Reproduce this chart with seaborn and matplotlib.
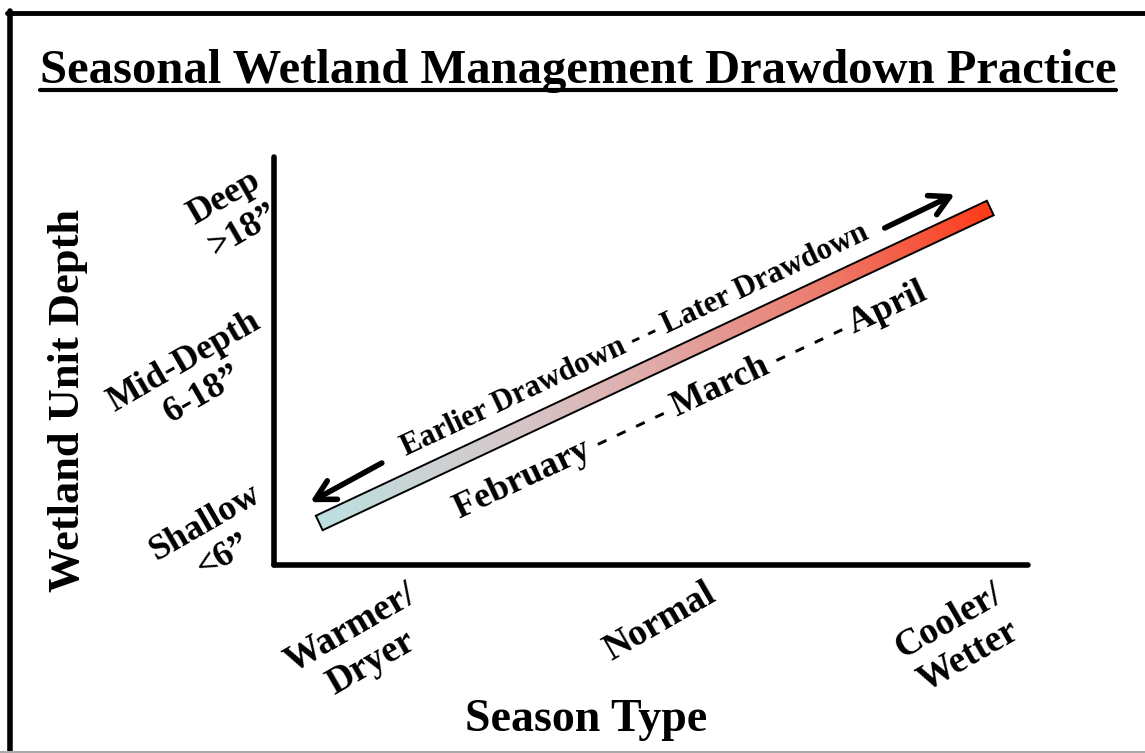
# Seasonal wetland drawdown diagram - conceptual chart
import numpy as np
import matplotlib
matplotlib.use("Agg")
import matplotlib.pyplot as plt
import seaborn as sns
from matplotlib.colors import LinearSegmentedColormap
from matplotlib.patches import Polygon
from matplotlib.lines import Line2D

# data
seasons = ["Warmer/\nDryer", "Normal", "Cooler/\nWetter"]
season_x = [1.15, 5.11, 9.08]
depths = ["Shallow\n<6\u201d", "Mid-Depth\n6-18\u201d", "Deep\n>18\u201d"]
depth_y = [0.62, 4.58, 8.6]
bar_x = [0.60, 9.50]
bar_y = [1.03, 8.75]
months = ["February", "March", "April"]
drawdown = ["Earlier Drawdown", "Later Drawdown"]
bar_colors = ["#bde1e3", "#d6c6c8", "#e0aaa8", "#ec7b6c", "#ff3a18"]

sns.set_theme(style="white")
plt.rcParams['font.family'] = ['Liberation Serif', 'DejaVu Serif']
plt.rcParams['font.weight'] = 'bold'
plt.rcParams['text.color'] = 'black'
plt.rcParams['xtick.color'] = 'black'
plt.rcParams['ytick.color'] = 'black'

W, H = 1145, 753
fig = plt.figure(figsize=(W / 100, H / 100), dpi=100)
fig.patch.set_facecolor('white')
ax = fig.add_axes([274 / W, 1 - 565 / H, (1028 - 274) / W, (565 - 157) / H])
ax.set_facecolor('white')
sns.despine(ax=ax)
for s in ['left', 'bottom']:
    ax.spines[s].set_linewidth(4)
    ax.spines[s].set_color('black')
    ax.spines[s].set_capstyle('round')
ax.set_xlim(0, 10)
ax.set_ylim(0, 10)

# gradient bar
p0 = ax.transData.transform((bar_x[0], bar_y[0]))
p1 = ax.transData.transform((bar_x[1], bar_y[1]))
d = p1 - p0
u = d / np.hypot(*d)
n = np.array([-u[1], u[0]]) * 8
corners = ax.transData.inverted().transform(np.array([p0 + n, p1 + n, p1 - n, p0 - n]))
poly = Polygon(corners, closed=True, fc='none', ec='black', lw=1.4, zorder=3)
ax.add_patch(poly)
cmap = LinearSegmentedColormap.from_list("wet", list(zip([0, 0.3, 0.5, 0.75, 1], bar_colors)))
grad = np.linspace(0, 1, 256).reshape(1, -1)
xmin, ymin = corners.min(0)
xmax, ymax = corners.max(0)
im = ax.imshow(grad, cmap=cmap, extent=[xmin, xmax, ymin, ymax], aspect='auto',
               origin='lower', zorder=2)
im.set_clip_path(poly)
ax.set_xlim(0, 10)
ax.set_ylim(0, 10)
angle = np.degrees(np.arctan2(d[1], d[0]))

# arrows
aprops = dict(arrowstyle='->,head_length=0.7,head_width=0.38', lw=4, color='black',
              mutation_scale=20, shrinkA=0, shrinkB=0)
ax.annotate('', xy=(0.48, 1.54), xytext=(1.43, 2.50), arrowprops=aprops)
ax.annotate('', xy=(9.03, 9.09), xytext=(8.10, 8.26), arrowprops=aprops)

ax.text(4.78, 5.50, " - - ".join(drawdown), rotation=angle, rotation_mode='anchor',
        ha='center', va='center', fontsize=22, fontweight='bold')
ax.text(5.52, 4.02, " - - - - ".join(months), rotation=angle, rotation_mode='anchor',
        ha='center', va='center', fontsize=26, fontweight='bold')

# ticks
ax.set_xticks(season_x, seasons, rotation=30, ha='center', va='top',
              multialignment='center', fontsize=27, fontweight='bold')
ax.set_yticks(depth_y, depths, rotation=30, ha='right', va='center',
              multialignment='center', fontsize=26, fontweight='bold')
ax.tick_params(axis='x', length=0, pad=8)
ax.tick_params(axis='y', length=0, pad=-8)

# labels
fig.text(68 / W, 1 - 401 / H, "Wetland Unit Depth", rotation=90, ha='center', va='center',
         fontsize=32, fontweight='bold')
fig.text(586 / W, 1 - 720 / H, "Season Type", ha='center', va='center',
         fontsize=33, fontweight='bold')
title = fig.text(578 / W, 1 - 83 / H, "Seasonal Wetland Management Drawdown Practice",
                 ha='center', va='baseline', fontsize=35, fontweight='bold')

fig.canvas.draw()
bb = title.get_window_extent()
fig.add_artist(Line2D([bb.x0 / W, bb.x1 / W], [1 - 89.5 / H] * 2, transform=fig.transFigure,
                      color='black', lw=3))

# frame
fig.add_artist(Line2D([7 / W, 1], [1 - 13 / H] * 2, transform=fig.transFigure, color='black', lw=3.5))
fig.add_artist(Line2D([9.5 / W] * 2, [1 - 11 / H, 0], transform=fig.transFigure, color='black', lw=4))
fig.add_artist(Line2D([0, 1], [1.5 / H] * 2, transform=fig.transFigure, color='#aaaaaa', lw=1.5))

fig.savefig("out.png", dpi=100)
